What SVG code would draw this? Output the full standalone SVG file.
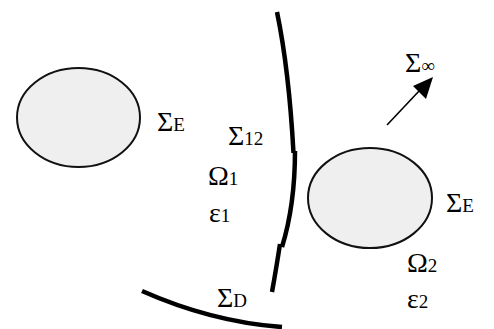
<svg xmlns="http://www.w3.org/2000/svg" width="494" height="329" viewBox="0 0 494 329">
<defs>
<style>
.body{fill:#efefef;stroke:#111;stroke-width:2}
.wall{fill:none;stroke:#000;stroke-width:4.5;stroke-linecap:butt}
.t{font-family:"Liberation Serif","Times New Roman",serif;fill:#000}
.big{font-size:28px}
.sub{font-size:19px}
</style>
</defs>
<g id="body-left"><ellipse class="body" cx="78.5" cy="117.5" rx="61.5" ry="49.5"/></g>
<g id="body-right"><ellipse class="body" cx="370" cy="198" rx="62" ry="50"/></g>
<g id="connectors">
<path class="wall" d="M277,12 Q289,70 293.5,153"/>
<path class="wall" d="M295,151 Q295,205 282,247"/>
<path class="wall" d="M280,244 Q276,270 272,292"/>
<path class="wall" d="M142,291 Q212,322 282,327"/>
<line x1="387" y1="125" x2="420" y2="90" stroke="#000" stroke-width="1.6"/>
<path d="M433,77 L426,99 L413,86 z" fill="#000"/>
</g>
<g id="labels">
<text class="t" x="157" y="131"><tspan class="big">Σ</tspan><tspan class="sub">E</tspan></text>
<text class="t" x="228" y="145"><tspan class="big">Σ</tspan><tspan class="sub">12</tspan></text>
<text class="t" x="208" y="185"><tspan class="big">Ω</tspan><tspan class="sub">1</tspan></text>
<text class="t" x="209" y="222"><tspan class="big">ε</tspan><tspan class="sub">1</tspan></text>
<text class="t" x="405" y="72"><tspan class="big">Σ</tspan><tspan class="sub">∞</tspan></text>
<text class="t" x="446" y="212"><tspan class="big">Σ</tspan><tspan class="sub">E</tspan></text>
<text class="t" x="407" y="272"><tspan class="big">Ω</tspan><tspan class="sub">2</tspan></text>
<text class="t" x="407" y="308"><tspan class="big">ε</tspan><tspan class="sub">2</tspan></text>
<text class="t" x="217" y="307"><tspan class="big">Σ</tspan><tspan class="sub">D</tspan></text>
</g>
</svg>
